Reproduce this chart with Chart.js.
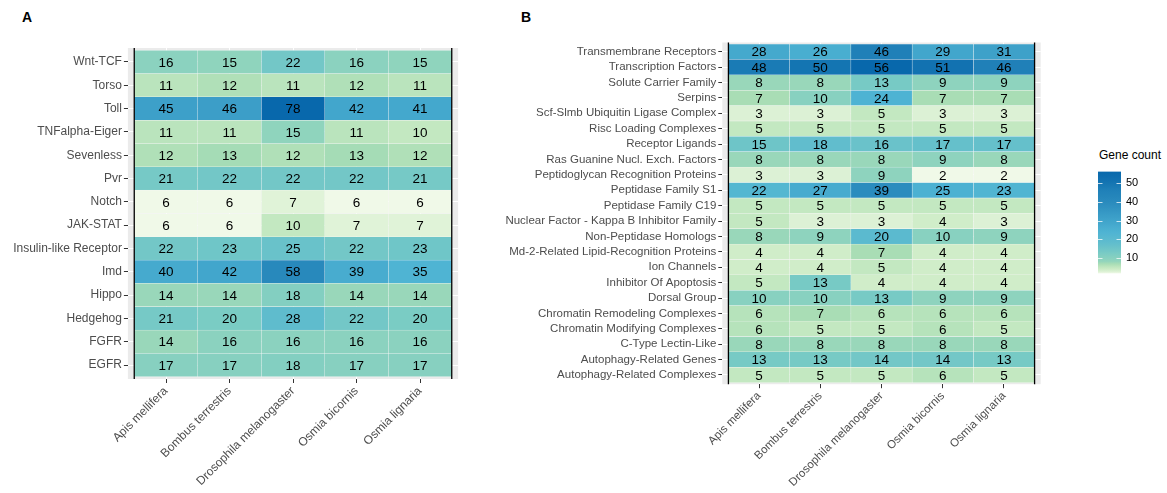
<!DOCTYPE html>
<html><head><meta charset="utf-8">
<script src="https://cdn.jsdelivr.net/npm/chart.js@4.4.1/dist/chart.umd.min.js"></script>
<style>
html,body{margin:0;padding:0;background:#fff;width:1167px;height:493px;overflow:hidden;font-family:"Liberation Sans",Arial,sans-serif}
canvas{position:absolute}
.tag{position:absolute;font-weight:bold;font-size:14px;color:#000}
</style></head><body>
<div class="tag" style="left:22px;top:9px">A</div>
<div class="tag" style="left:521px;top:9px">B</div>
<canvas id="ca" style="left:0;top:0" width="470" height="493"></canvas>
<canvas id="cb" style="left:470px;top:0" width="590" height="493"></canvas>
<div style="position:absolute;left:1099px;top:148px;font-size:12px;color:#000">Gene count</div>
<canvas id="cl" style="left:1090px;top:160px" width="75" height="125"></canvas>
<script>
// ---------- DATA ----------
const species = ["Apis mellifera","Bombus terrestris","Drosophila melanogaster","Osmia bicornis","Osmia lignaria"];

const pathwaysA = ["Wnt-TCF","Torso","Toll","TNFalpha-Eiger","Sevenless","Pvr","Notch","JAK-STAT",
  "Insulin-like Receptor","Imd","Hippo","Hedgehog","FGFR","EGFR"];
const A_apis    = [16,11,45,11,12,21,6,6,22,40,14,21,14,17];
const A_bombus  = [15,12,46,11,13,22,6,6,23,42,14,20,16,17];
const A_dros    = [22,11,78,15,12,22,7,10,25,58,18,28,16,18];
const A_obic    = [16,12,42,11,13,22,6,7,22,39,14,22,16,17];
const A_olig    = [15,11,41,10,12,21,6,7,23,35,14,20,16,17];

const familiesB = ["Transmembrane Receptors","Transcription Factors","Solute Carrier Family","Serpins",
  "Scf-Slmb Ubiquitin Ligase Complex","Risc Loading Complexes","Receptor Ligands","Ras Guanine Nucl. Exch. Factors",
  "Peptidoglycan Recognition Proteins","Peptidase Family S1","Peptidase Family C19","Nuclear Factor - Kappa B Inhibitor Family",
  "Non-Peptidase Homologs","Md-2-Related Lipid-Recognition Proteins","Ion Channels","Inhibitor Of Apoptosis",
  "Dorsal Group","Chromatin Remodeling Complexes","Chromatin Modifying Complexes","C-Type Lectin-Like",
  "Autophagy-Related Genes","Autophagy-Related Complexes"];
const B_apis   = [28,48,8,7,3,5,15,8,3,22,5,5,8,4,4,5,10,6,6,8,13,5];
const B_bombus = [26,50,8,10,3,5,18,8,3,27,5,3,9,4,4,13,10,7,5,8,13,5];
const B_dros   = [46,56,13,24,5,5,16,8,9,39,5,3,20,7,5,4,13,6,5,8,14,5];
const B_obic   = [29,51,9,7,3,5,17,9,2,25,5,4,10,4,4,4,9,6,6,8,14,6];
const B_olig   = [31,46,9,7,3,5,17,8,2,23,5,3,9,4,4,4,9,6,5,8,13,5];

const legendTicks = [10,20,30,40,50];

// ---------- STYLE ----------
const FONT = '"Liberation Sans", Arial, sans-serif';
Chart.defaults.font.family = FONT;
const palette = ['#F0F9E8','#CCEBC5','#A8DDB5','#7BCCC4','#4EB3D3','#2B8CBE','#0868AC'];
// colour-scale warp (normalised value -> palette position)
const warpU = [0, 0.015, 0.06, 0.12, 0.21, 0.30, 0.48, 0.70, 0.82, 0.90, 1];
const warpT = [0, 0.08, 0.22, 0.42, 0.52, 0.60, 0.71, 0.84, 0.89, 0.95, 1];
function hex2rgb(h){return [parseInt(h.slice(1,3),16),parseInt(h.slice(3,5),16),parseInt(h.slice(5,7),16)];}
const palRGB = palette.map(hex2rgb);
function warp(u){
  for (let k = 1; k < warpU.length; k++) {
    if (u <= warpU[k]) { const f = (u - warpU[k-1]) / (warpU[k] - warpU[k-1]); return warpT[k-1] + f * (warpT[k] - warpT[k-1]); }
  }
  return 1;
}
function makeColor(lo, hi){
  return v => {
    let u = Math.max(0, Math.min(1, (v - lo) / (hi - lo)));
    const t = warp(u);
    const p = t * (palRGB.length - 1);
    const i = Math.min(Math.floor(p), palRGB.length - 2);
    const f = p - i;
    const c = palRGB[i].map((x, k) => Math.round(x + (palRGB[i+1][k] - x) * f));
    return `rgb(${c[0]},${c[1]},${c[2]})`;
  };
}

function heatmap(canvasId, rows, cols, geom){
  const all = cols.flat();
  const color = makeColor(Math.min(...all), Math.max(...all));
  const nR = rows.length, nC = cols.length;
  const datasets = cols.map((vals, c) => ({
    data: vals.map((v, i) => ({ y: i + 0.5, x: [c, c + 1], v })),
    backgroundColor: vals.map(v => color(v)),
    borderColor: 'rgba(255,255,255,0.45)',
    borderWidth: 0.5,
    borderSkipped: false,
    barPercentage: 1,
    categoryPercentage: 1,
    grouped: false
  }));
  const panelPlugin = {
    id: 'panel',
    beforeDraw(chart){
      const {ctx, chartArea: a} = chart;
      ctx.save(); ctx.fillStyle = '#EBEBEB'; ctx.fillRect(a.left, a.top, a.width, a.height); ctx.restore();
    },
    afterDatasetsDraw(chart){
      const {ctx, chartArea: a} = chart;
      ctx.save();
      ctx.font = '13.5px ' + FONT; ctx.textAlign = 'center'; ctx.textBaseline = 'middle'; ctx.fillStyle = '#000';
      chart.data.datasets.forEach((ds, di) => {
        chart.getDatasetMeta(di).data.forEach((el, i) => {
          const p = el.getCenterPoint();
          ctx.fillText(String(ds.data[i].v), p.x, p.y + 1);
        });
      });
      ctx.strokeStyle = '#000'; ctx.lineWidth = 1.3;
      [0, nC].forEach(v => {
        const x = chart.scales.x.getPixelForValue(v);
        ctx.beginPath(); ctx.moveTo(x, a.top); ctx.lineTo(x, a.bottom); ctx.stroke();
      });
      ctx.restore();
    }
  };
  const tickFont = {size: geom.font, family: FONT};
  return new Chart(document.getElementById(canvasId), {
    type: 'bar',
    data: { datasets },
    options: {
      indexAxis: 'y', responsive: false, animation: false, events: [],
      layout: { padding: { left: 0, right: geom.right, top: geom.top, bottom: 0 } },
      plugins: { legend: {display: false}, tooltip: {enabled: false} },
      scales: {
        x: {
          type: 'linear', position: 'bottom', min: -0.1, max: nC + 0.1, offset: false,
          afterBuildTicks: s => { s.ticks = species.map((sp, i) => ({value: i + 0.5})); },
          afterFit: s => { s.height = geom.xH; },
          ticks: { autoSkip: false, minRotation: 45, maxRotation: 45, callback: (v, i) => species[i],
                   color: '#4D4D4D', font: tickFont, padding: 1 },
          grid: { offset: false, color: '#FFFFFF', lineWidth: 1, tickColor: '#333333', tickLength: 4, drawTicks: true },
          border: { display: false }
        },
        y: {
          type: 'linear', reverse: true, min: -0.1, max: nR + 0.1, offset: false,
          afterBuildTicks: s => { s.ticks = rows.map((r, i) => ({value: i + 0.5})); },
          afterFit: s => { s.width = geom.yW; },
          ticks: { autoSkip: false, callback: (v, i) => rows[i], color: '#4D4D4D', font: tickFont, padding: 2 },
          grid: { offset: false, color: '#FFFFFF', lineWidth: 1, tickColor: '#333333', tickLength: 4, drawTicks: true },
          border: { display: false }
        }
      }
    },
    plugins: [panelPlugin]
  });
}

heatmap('ca', pathwaysA, [A_apis, A_bombus, A_dros, A_obic, A_olig], {yW: 127.9, right: 11.9, top: 48, xH: 114, font: 12});
heatmap('cb', familiesB, [B_apis, B_bombus, B_dros, B_obic, B_olig], {yW: 252.3, right: 19.3, top: 42.5, xH: 108.8, font: 11.5});

// ---------- LEGEND (colour bar for panel B) ----------
(function(){
  const all = [B_apis, B_bombus, B_dros, B_obic, B_olig].flat();
  const lo = Math.min(...all), hi = Math.max(...all);
  const color = makeColor(lo, hi);
  const tickPlugin = {
    id: 'cbticks',
    afterDatasetsDraw(chart){
      const {ctx, chartArea: a} = chart; const ys = chart.scales.y;
      ctx.save(); ctx.strokeStyle = 'rgba(255,255,255,0.75)'; ctx.lineWidth = 1;
      legendTicks.forEach(v => {
        const y = Math.round(ys.getPixelForValue(v)) + 0.5;
        ctx.beginPath(); ctx.moveTo(a.left, y); ctx.lineTo(a.left + 4.5, y);
        ctx.moveTo(a.right - 4.5, y); ctx.lineTo(a.right, y); ctx.stroke();
      });
      ctx.restore();
    }
  };
  new Chart(document.getElementById('cl'), {
    type: 'bar',
    data: { labels: ['Gene count'], datasets: [{
      data: [[lo, hi]],
      backgroundColor: c => {
        const ch = c.chart; if (!ch.chartArea) return '#7BCCC4';
        const ys = ch.scales.y;
        const g = ch.ctx.createLinearGradient(0, ys.getPixelForValue(lo), 0, ys.getPixelForValue(hi));
        for (let k = 0; k <= 60; k++) { const v = lo + (hi - lo) * k / 60; g.addColorStop(k / 60, color(v)); }
        return g;
      },
      borderWidth: 0, barPercentage: 1, categoryPercentage: 1
    }]},
    options: {
      responsive: false, animation: false, events: [],
      layout: { padding: { left: 8, right: 0, top: 9.2, bottom: 9 } },
      plugins: { legend: {display: false}, tooltip: {enabled: false} },
      scales: {
        x: { display: false },
        y: { position: 'right', min: lo, max: hi,
             afterBuildTicks: s => { s.ticks = legendTicks.map(v => ({value: v})); },
             afterFit: s => { s.width = 44; },
             ticks: { color: '#000', font: {size: 11, family: FONT}, padding: 5 },
             grid: { display: false, tickLength: 0, drawTicks: false }, border: { display: false } }
      }
    },
    plugins: [tickPlugin]
  });
})();
</script>
</body></html>
